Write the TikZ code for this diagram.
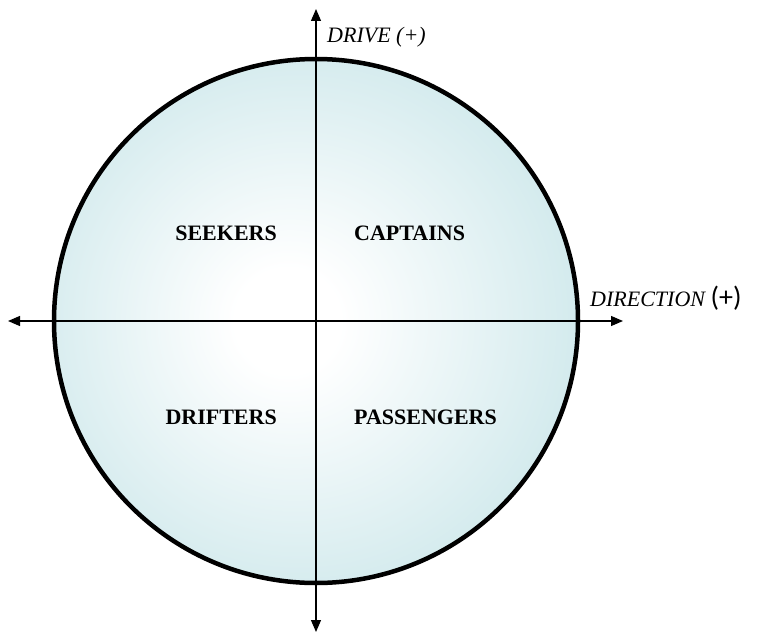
\documentclass[tikz,border=0pt]{standalone}
\usepackage{fontspec}
\setmainfont{Liberation Serif}
\newfontfamily\plusfont{Carlito}
\usetikzlibrary{arrows.meta,shapes.geometric}
\definecolor{discedge}{RGB}{176,218,223}
\pgfdeclareradialshading{discshade}{\pgfpoint{-3bp}{0bp}}{color(0bp)=(white); color(5bp)=(white); color(44bp)=(discedge); color(52bp)=(discedge)}
\tikzset{
  axis/.style={line width=1.2pt, {Triangle[length=12pt,width=10pt]}-{Triangle[length=12pt,width=10pt]}},
  quad/.style={font=\fontsize{22}{24}\selectfont\bfseries, inner sep=0pt},
  axlabel/.style={font=\fontsize{22}{24}\selectfont\itshape, inner sep=0pt},
}
\begin{document}
\begin{tikzpicture}[x=1pt,y=-1pt]
\useasboundingbox (0,0) rectangle (768,642);
\node[circle, minimum size=524pt, inner sep=0pt, draw=black, line width=4.5pt, shading=discshade] (disc) at (316,321) {};
\coordinate (top) at (316,9);
\coordinate (bot) at (316,632);
\coordinate (lft) at (8,321);
\coordinate (rgt) at (623,321);
\draw[axis] (lft) -- (rgt);
\draw[axis] (bot) -- (top);
\node[axlabel, anchor=base west] (drive) at (327,43) {DRIVE (+)};
\node[axlabel, anchor=base west] (dir) at (590,306) {DIRECTION {\upshape\plusfont\fontsize{28}{30}\selectfont (+)}};
\node[quad, anchor=base east] (seek) at (277,240) {SEEKERS};
\node[quad, anchor=base west] (capt) at (354,240) {CAPTAINS};
\node[quad, anchor=base east] (drift) at (277,424) {DRIFTERS};
\node[quad, anchor=base west] (pass) at (354,424) {PASSENGERS};
\end{tikzpicture}
\end{document}
